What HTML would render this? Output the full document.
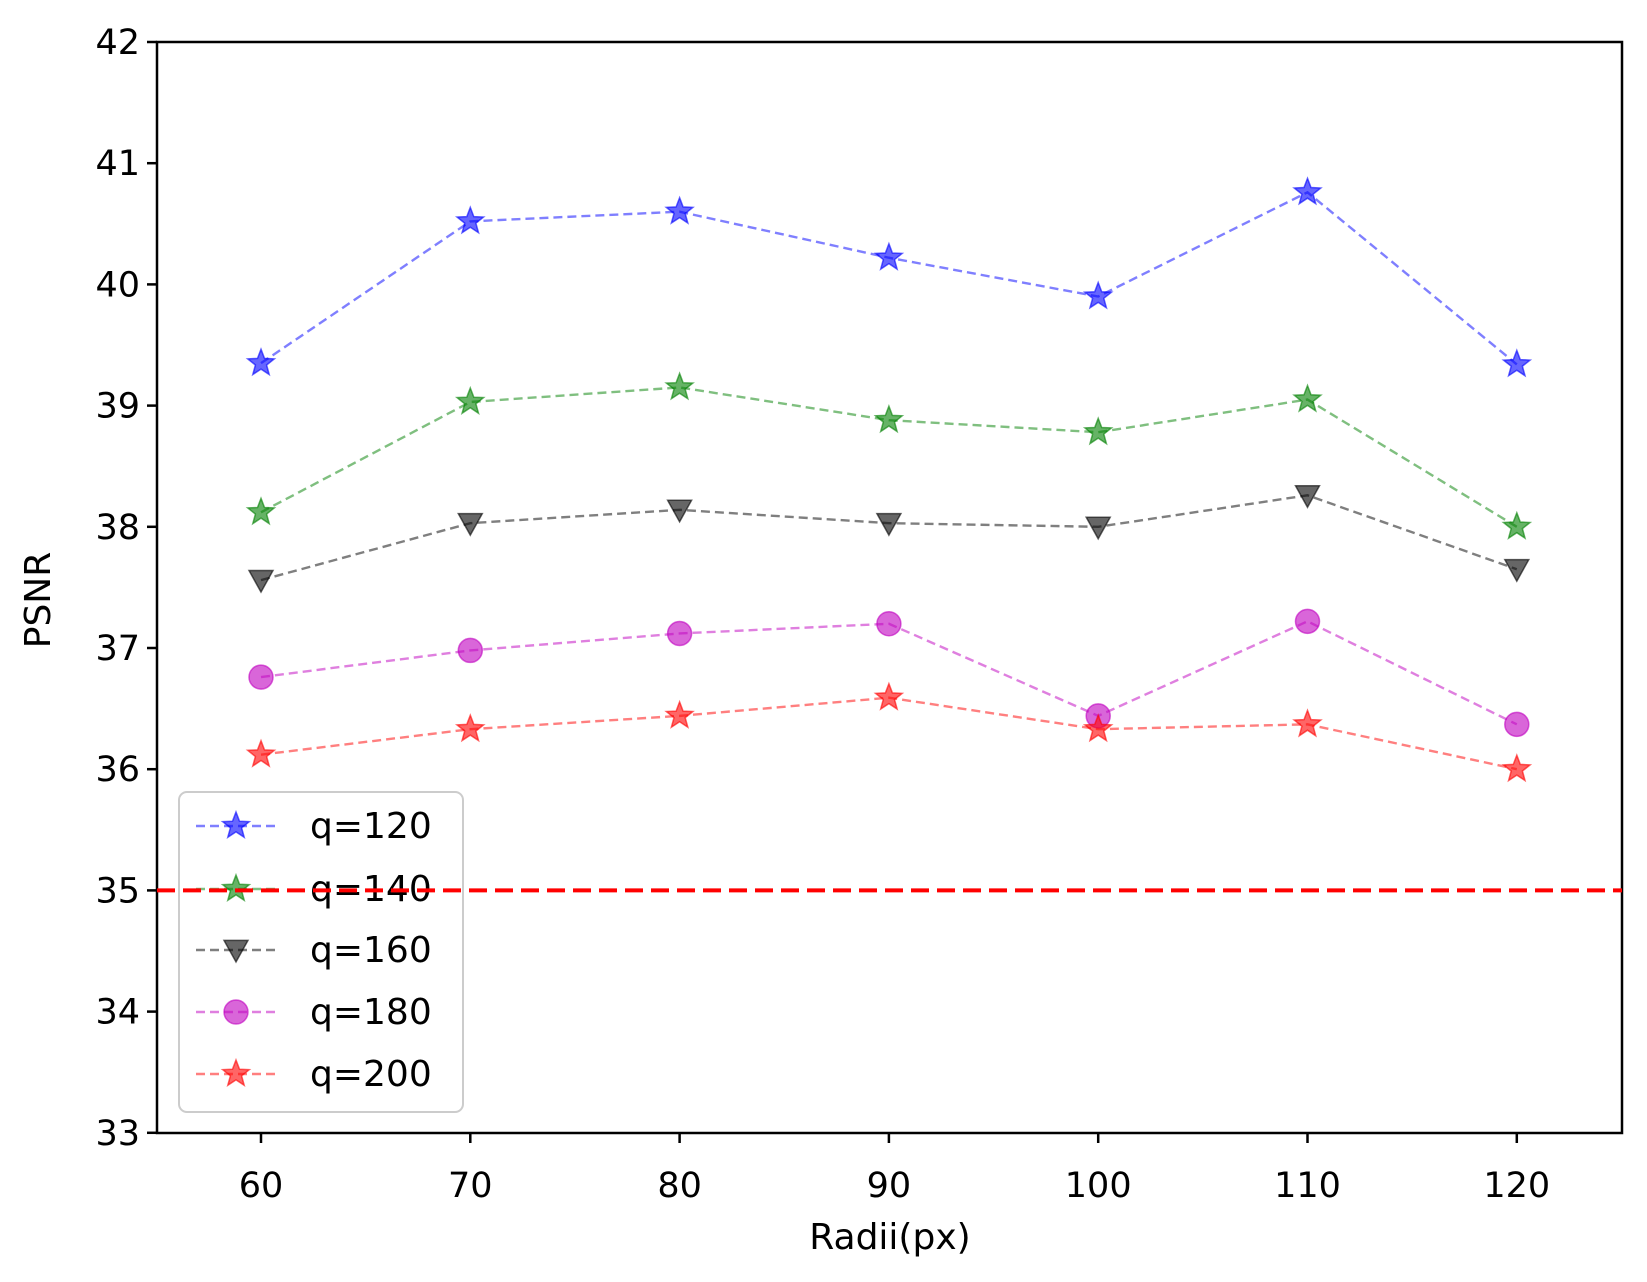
<!DOCTYPE html>
<html><head><meta charset="utf-8"><style>
html,body{margin:0;padding:0;background:#fff;}
svg{display:block;font-family:"DejaVu Sans","Liberation Sans",sans-serif;}
</style></head><body>
<svg id="s" width="1647" height="1282" viewBox="0 0 1647 1282" xmlns="http://www.w3.org/2000/svg">
<rect width="1647" height="1282" fill="#fff"/>
<g id="plot"></g>
<g id="axes" stroke="#000" stroke-width="2.5" fill="none">
<rect x="157" y="42" width="1465" height="1091"/>
</g>
<g id="ticks"></g>
<text x="890" y="1249" font-size="36" text-anchor="middle">Radii(px)</text>
<text transform="translate(50,600) rotate(-90)" font-size="36" text-anchor="middle">PSNR</text>
<g id="legend"></g>
</svg>
<script>
const NS="http://www.w3.org/2000/svg";
function el(p,t,a,txt){const e=document.createElementNS(NS,t);for(const k in a)e.setAttribute(k,a[k]);if(txt!==undefined)e.textContent=txt;p.appendChild(e);return e;}
const X=v=>261+(v-60)*20.93, Y=v=>42+(42-v)*121.2;
const plot=document.getElementById('plot'),tk=document.getElementById('ticks'),lg=document.getElementById('legend');
for(let v=33;v<=42;v++){el(tk,'line',{x1:147,x2:157,y1:Y(v),y2:Y(v),stroke:'#000','stroke-width':2.5});el(tk,'text',{x:140,y:Y(v)+12,'font-size':35,'text-anchor':'end'},v);}
for(let v=60;v<=120;v+=10){el(tk,'line',{x1:X(v),x2:X(v),y1:1133,y2:1143,stroke:'#000','stroke-width':2.5});el(tk,'text',{x:X(v),y:1197,'font-size':35,'text-anchor':'middle'},v);}
function star(g,cx,cy,r,col){let p=[];for(let i=0;i<10;i++){const rr=i%2?r*0.42:r;const a=-Math.PI/2+i*Math.PI/5;p.push((cx+rr*Math.cos(a)).toFixed(1)+','+(cy+rr*Math.sin(a)).toFixed(1));}el(g,'polygon',{points:p.join(' '),fill:col,'fill-opacity':0.6,stroke:col,'stroke-opacity':0.6,'stroke-width':1.5});}
function tri(g,cx,cy,r,col){el(g,'polygon',{points:`${cx-r},${cy-r*0.8} ${cx+r},${cy-r*0.8} ${cx},${cy+r}`,fill:col,'fill-opacity':0.6,stroke:col,'stroke-opacity':0.6,'stroke-width':1.5});}
function circ(g,cx,cy,r,col){el(g,'circle',{cx,cy,r,fill:col,'fill-opacity':0.6,stroke:col,'stroke-opacity':0.6,'stroke-width':1.5});}
const xs=[60,70,80,90,100,110,120];
const S=[
['q=120','#0000ff','star',[39.35,40.52,40.6,40.22,39.9,40.76,39.34]],
['q=140','#008000','star',[38.12,39.03,39.15,38.88,38.78,39.05,38.0]],
['q=160','#000000','tri',[37.56,38.03,38.14,38.03,38.0,38.26,37.65]],
['q=180','#bf00bf','circ',[36.76,36.98,37.12,37.2,36.44,37.22,36.37]],
['q=200','#ff0000','star',[36.12,36.33,36.44,36.59,36.33,36.37,36.0]]];
function mark(g,m,x,y,col){if(m==='star')star(g,x,y,14,col);else if(m==='tri')tri(g,x,y,12,col);else circ(g,x,y,12,col);}
S.forEach(s=>{const pts=xs.map((x,i)=>X(x)+','+Y(s[3][i])).join(' ');
el(plot,'polyline',{points:pts,fill:'none',stroke:s[1],'stroke-opacity':0.5,'stroke-width':2.4,'stroke-dasharray':'9,5'});
xs.forEach((x,i)=>mark(plot,s[2],X(x),Y(s[3][i]),s[1]));});
el(lg,'rect',{x:179,y:792,width:284,height:320,rx:8,fill:'#fff','fill-opacity':0.8,stroke:'#ccc','stroke-width':2});
const ly=[826,889,950,1012,1074];
S.forEach((s,i)=>{el(lg,'line',{x1:196,x2:276,y1:ly[i],y2:ly[i],stroke:s[1],'stroke-opacity':0.5,'stroke-width':2.4,'stroke-dasharray':'9,5'});
mark(lg,s[2],236,ly[i],s[1]);el(lg,'text',{x:310,y:ly[i]+12,'font-size':36},s[0]);});
el(document.getElementById('s'),'line',{x1:157,x2:1622,y1:Y(35),y2:Y(35),stroke:'#ff0000','stroke-width':4,'stroke-dasharray':'18,8'});
</script>
</body></html>
